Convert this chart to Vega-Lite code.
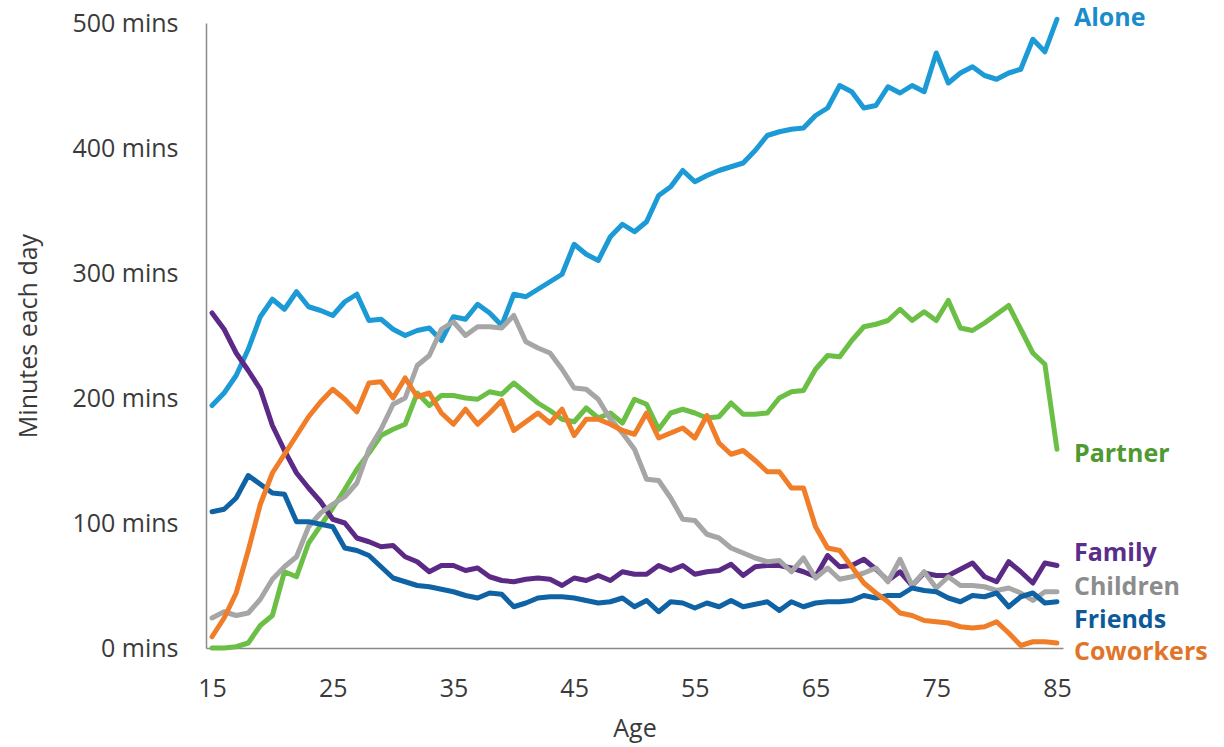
{
  "$schema": "https://vega.github.io/schema/vega-lite/v6.json",
  "width": 857,
  "height": 625,
  "autosize": "none",
  "padding": {"left": 206, "top": 23, "right": 161, "bottom": 99},
  "background": "white",
  "config": {"view": {"stroke": null}, "font": "Open Sans"},
  "datasets": {
    "minutes": [
      {"age":15,"who":"Alone","minutes":194},{"age":16,"who":"Alone","minutes":204},{"age":17,"who":"Alone","minutes":218},{"age":18,"who":"Alone","minutes":239},{"age":19,"who":"Alone","minutes":265},{"age":20,"who":"Alone","minutes":279},{"age":21,"who":"Alone","minutes":271},{"age":22,"who":"Alone","minutes":285},{"age":23,"who":"Alone","minutes":273},{"age":24,"who":"Alone","minutes":270},{"age":25,"who":"Alone","minutes":266},{"age":26,"who":"Alone","minutes":277},{"age":27,"who":"Alone","minutes":283},{"age":28,"who":"Alone","minutes":262},{"age":29,"who":"Alone","minutes":263},{"age":30,"who":"Alone","minutes":255},{"age":31,"who":"Alone","minutes":250},{"age":32,"who":"Alone","minutes":254},{"age":33,"who":"Alone","minutes":256},{"age":34,"who":"Alone","minutes":246},{"age":35,"who":"Alone","minutes":265},{"age":36,"who":"Alone","minutes":263},{"age":37,"who":"Alone","minutes":275},{"age":38,"who":"Alone","minutes":268},{"age":39,"who":"Alone","minutes":258},{"age":40,"who":"Alone","minutes":283},{"age":41,"who":"Alone","minutes":281},{"age":42,"who":"Alone","minutes":287},{"age":43,"who":"Alone","minutes":293},{"age":44,"who":"Alone","minutes":299},{"age":45,"who":"Alone","minutes":323},{"age":46,"who":"Alone","minutes":315},{"age":47,"who":"Alone","minutes":310},{"age":48,"who":"Alone","minutes":329},{"age":49,"who":"Alone","minutes":339},{"age":50,"who":"Alone","minutes":333},{"age":51,"who":"Alone","minutes":341},{"age":52,"who":"Alone","minutes":362},{"age":53,"who":"Alone","minutes":369},{"age":54,"who":"Alone","minutes":382},{"age":55,"who":"Alone","minutes":373},{"age":56,"who":"Alone","minutes":378},{"age":57,"who":"Alone","minutes":382},{"age":58,"who":"Alone","minutes":385},{"age":59,"who":"Alone","minutes":388},{"age":60,"who":"Alone","minutes":398},{"age":61,"who":"Alone","minutes":410},{"age":62,"who":"Alone","minutes":413},{"age":63,"who":"Alone","minutes":415},{"age":64,"who":"Alone","minutes":416},{"age":65,"who":"Alone","minutes":426},{"age":66,"who":"Alone","minutes":432},{"age":67,"who":"Alone","minutes":450},{"age":68,"who":"Alone","minutes":445},{"age":69,"who":"Alone","minutes":432},{"age":70,"who":"Alone","minutes":434},{"age":71,"who":"Alone","minutes":449},{"age":72,"who":"Alone","minutes":444},{"age":73,"who":"Alone","minutes":450},{"age":74,"who":"Alone","minutes":445},{"age":75,"who":"Alone","minutes":476},{"age":76,"who":"Alone","minutes":452},{"age":77,"who":"Alone","minutes":460},{"age":78,"who":"Alone","minutes":465},{"age":79,"who":"Alone","minutes":458},{"age":80,"who":"Alone","minutes":455},{"age":81,"who":"Alone","minutes":460},{"age":82,"who":"Alone","minutes":463},{"age":83,"who":"Alone","minutes":487},{"age":84,"who":"Alone","minutes":477},{"age":85,"who":"Alone","minutes":503},
      {"age":15,"who":"Partner","minutes":0},{"age":16,"who":"Partner","minutes":0},{"age":17,"who":"Partner","minutes":1},{"age":18,"who":"Partner","minutes":4},{"age":19,"who":"Partner","minutes":18},{"age":20,"who":"Partner","minutes":26},{"age":21,"who":"Partner","minutes":61},{"age":22,"who":"Partner","minutes":57},{"age":23,"who":"Partner","minutes":84},{"age":24,"who":"Partner","minutes":98},{"age":25,"who":"Partner","minutes":112},{"age":26,"who":"Partner","minutes":127},{"age":27,"who":"Partner","minutes":143},{"age":28,"who":"Partner","minutes":156},{"age":29,"who":"Partner","minutes":170},{"age":30,"who":"Partner","minutes":175},{"age":31,"who":"Partner","minutes":179},{"age":32,"who":"Partner","minutes":204},{"age":33,"who":"Partner","minutes":194},{"age":34,"who":"Partner","minutes":202},{"age":35,"who":"Partner","minutes":202},{"age":36,"who":"Partner","minutes":200},{"age":37,"who":"Partner","minutes":199},{"age":38,"who":"Partner","minutes":205},{"age":39,"who":"Partner","minutes":203},{"age":40,"who":"Partner","minutes":212},{"age":41,"who":"Partner","minutes":204},{"age":42,"who":"Partner","minutes":196},{"age":43,"who":"Partner","minutes":190},{"age":44,"who":"Partner","minutes":183},{"age":45,"who":"Partner","minutes":181},{"age":46,"who":"Partner","minutes":192},{"age":47,"who":"Partner","minutes":184},{"age":48,"who":"Partner","minutes":188},{"age":49,"who":"Partner","minutes":180},{"age":50,"who":"Partner","minutes":199},{"age":51,"who":"Partner","minutes":195},{"age":52,"who":"Partner","minutes":175},{"age":53,"who":"Partner","minutes":188},{"age":54,"who":"Partner","minutes":191},{"age":55,"who":"Partner","minutes":188},{"age":56,"who":"Partner","minutes":184},{"age":57,"who":"Partner","minutes":185},{"age":58,"who":"Partner","minutes":196},{"age":59,"who":"Partner","minutes":187},{"age":60,"who":"Partner","minutes":187},{"age":61,"who":"Partner","minutes":188},{"age":62,"who":"Partner","minutes":200},{"age":63,"who":"Partner","minutes":205},{"age":64,"who":"Partner","minutes":206},{"age":65,"who":"Partner","minutes":223},{"age":66,"who":"Partner","minutes":234},{"age":67,"who":"Partner","minutes":233},{"age":68,"who":"Partner","minutes":246},{"age":69,"who":"Partner","minutes":257},{"age":70,"who":"Partner","minutes":259},{"age":71,"who":"Partner","minutes":262},{"age":72,"who":"Partner","minutes":271},{"age":73,"who":"Partner","minutes":262},{"age":74,"who":"Partner","minutes":269},{"age":75,"who":"Partner","minutes":262},{"age":76,"who":"Partner","minutes":278},{"age":77,"who":"Partner","minutes":256},{"age":78,"who":"Partner","minutes":254},{"age":79,"who":"Partner","minutes":260},{"age":80,"who":"Partner","minutes":267},{"age":81,"who":"Partner","minutes":274},{"age":82,"who":"Partner","minutes":255},{"age":83,"who":"Partner","minutes":236},{"age":84,"who":"Partner","minutes":227},{"age":85,"who":"Partner","minutes":159},
      {"age":15,"who":"Family","minutes":268},{"age":16,"who":"Family","minutes":255},{"age":17,"who":"Family","minutes":236},{"age":18,"who":"Family","minutes":222},{"age":19,"who":"Family","minutes":207},{"age":20,"who":"Family","minutes":178},{"age":21,"who":"Family","minutes":158},{"age":22,"who":"Family","minutes":140},{"age":23,"who":"Family","minutes":128},{"age":24,"who":"Family","minutes":117},{"age":25,"who":"Family","minutes":103},{"age":26,"who":"Family","minutes":100},{"age":27,"who":"Family","minutes":88},{"age":28,"who":"Family","minutes":85},{"age":29,"who":"Family","minutes":81},{"age":30,"who":"Family","minutes":82},{"age":31,"who":"Family","minutes":73},{"age":32,"who":"Family","minutes":69},{"age":33,"who":"Family","minutes":61},{"age":34,"who":"Family","minutes":66},{"age":35,"who":"Family","minutes":66},{"age":36,"who":"Family","minutes":62},{"age":37,"who":"Family","minutes":64},{"age":38,"who":"Family","minutes":57},{"age":39,"who":"Family","minutes":54},{"age":40,"who":"Family","minutes":53},{"age":41,"who":"Family","minutes":55},{"age":42,"who":"Family","minutes":56},{"age":43,"who":"Family","minutes":55},{"age":44,"who":"Family","minutes":50},{"age":45,"who":"Family","minutes":56},{"age":46,"who":"Family","minutes":54},{"age":47,"who":"Family","minutes":58},{"age":48,"who":"Family","minutes":54},{"age":49,"who":"Family","minutes":61},{"age":50,"who":"Family","minutes":59},{"age":51,"who":"Family","minutes":59},{"age":52,"who":"Family","minutes":66},{"age":53,"who":"Family","minutes":62},{"age":54,"who":"Family","minutes":66},{"age":55,"who":"Family","minutes":59},{"age":56,"who":"Family","minutes":61},{"age":57,"who":"Family","minutes":62},{"age":58,"who":"Family","minutes":67},{"age":59,"who":"Family","minutes":58},{"age":60,"who":"Family","minutes":65},{"age":61,"who":"Family","minutes":66},{"age":62,"who":"Family","minutes":66},{"age":63,"who":"Family","minutes":64},{"age":64,"who":"Family","minutes":61},{"age":65,"who":"Family","minutes":57},{"age":66,"who":"Family","minutes":74},{"age":67,"who":"Family","minutes":65},{"age":68,"who":"Family","minutes":66},{"age":69,"who":"Family","minutes":71},{"age":70,"who":"Family","minutes":63},{"age":71,"who":"Family","minutes":54},{"age":72,"who":"Family","minutes":61},{"age":73,"who":"Family","minutes":50},{"age":74,"who":"Family","minutes":60},{"age":75,"who":"Family","minutes":58},{"age":76,"who":"Family","minutes":58},{"age":77,"who":"Family","minutes":63},{"age":78,"who":"Family","minutes":68},{"age":79,"who":"Family","minutes":57},{"age":80,"who":"Family","minutes":53},{"age":81,"who":"Family","minutes":69},{"age":82,"who":"Family","minutes":61},{"age":83,"who":"Family","minutes":52},{"age":84,"who":"Family","minutes":68},{"age":85,"who":"Family","minutes":66},
      {"age":15,"who":"Children","minutes":24},{"age":16,"who":"Children","minutes":29},{"age":17,"who":"Children","minutes":26},{"age":18,"who":"Children","minutes":28},{"age":19,"who":"Children","minutes":39},{"age":20,"who":"Children","minutes":55},{"age":21,"who":"Children","minutes":65},{"age":22,"who":"Children","minutes":73},{"age":23,"who":"Children","minutes":97},{"age":24,"who":"Children","minutes":108},{"age":25,"who":"Children","minutes":115},{"age":26,"who":"Children","minutes":121},{"age":27,"who":"Children","minutes":132},{"age":28,"who":"Children","minutes":159},{"age":29,"who":"Children","minutes":175},{"age":30,"who":"Children","minutes":195},{"age":31,"who":"Children","minutes":200},{"age":32,"who":"Children","minutes":226},{"age":33,"who":"Children","minutes":234},{"age":34,"who":"Children","minutes":255},{"age":35,"who":"Children","minutes":261},{"age":36,"who":"Children","minutes":250},{"age":37,"who":"Children","minutes":257},{"age":38,"who":"Children","minutes":257},{"age":39,"who":"Children","minutes":256},{"age":40,"who":"Children","minutes":266},{"age":41,"who":"Children","minutes":245},{"age":42,"who":"Children","minutes":240},{"age":43,"who":"Children","minutes":236},{"age":44,"who":"Children","minutes":223},{"age":45,"who":"Children","minutes":208},{"age":46,"who":"Children","minutes":207},{"age":47,"who":"Children","minutes":199},{"age":48,"who":"Children","minutes":183},{"age":49,"who":"Children","minutes":172},{"age":50,"who":"Children","minutes":159},{"age":51,"who":"Children","minutes":135},{"age":52,"who":"Children","minutes":134},{"age":53,"who":"Children","minutes":120},{"age":54,"who":"Children","minutes":103},{"age":55,"who":"Children","minutes":102},{"age":56,"who":"Children","minutes":91},{"age":57,"who":"Children","minutes":88},{"age":58,"who":"Children","minutes":80},{"age":59,"who":"Children","minutes":76},{"age":60,"who":"Children","minutes":72},{"age":61,"who":"Children","minutes":69},{"age":62,"who":"Children","minutes":70},{"age":63,"who":"Children","minutes":61},{"age":64,"who":"Children","minutes":72},{"age":65,"who":"Children","minutes":56},{"age":66,"who":"Children","minutes":64},{"age":67,"who":"Children","minutes":55},{"age":68,"who":"Children","minutes":57},{"age":69,"who":"Children","minutes":60},{"age":70,"who":"Children","minutes":64},{"age":71,"who":"Children","minutes":53},{"age":72,"who":"Children","minutes":71},{"age":73,"who":"Children","minutes":50},{"age":74,"who":"Children","minutes":61},{"age":75,"who":"Children","minutes":48},{"age":76,"who":"Children","minutes":57},{"age":77,"who":"Children","minutes":50},{"age":78,"who":"Children","minutes":50},{"age":79,"who":"Children","minutes":49},{"age":80,"who":"Children","minutes":46},{"age":81,"who":"Children","minutes":48},{"age":82,"who":"Children","minutes":44},{"age":83,"who":"Children","minutes":38},{"age":84,"who":"Children","minutes":45},{"age":85,"who":"Children","minutes":45},
      {"age":15,"who":"Friends","minutes":109},{"age":16,"who":"Friends","minutes":111},{"age":17,"who":"Friends","minutes":120},{"age":18,"who":"Friends","minutes":138},{"age":19,"who":"Friends","minutes":131},{"age":20,"who":"Friends","minutes":124},{"age":21,"who":"Friends","minutes":123},{"age":22,"who":"Friends","minutes":101},{"age":23,"who":"Friends","minutes":101},{"age":24,"who":"Friends","minutes":99},{"age":25,"who":"Friends","minutes":97},{"age":26,"who":"Friends","minutes":80},{"age":27,"who":"Friends","minutes":78},{"age":28,"who":"Friends","minutes":74},{"age":29,"who":"Friends","minutes":65},{"age":30,"who":"Friends","minutes":56},{"age":31,"who":"Friends","minutes":53},{"age":32,"who":"Friends","minutes":50},{"age":33,"who":"Friends","minutes":49},{"age":34,"who":"Friends","minutes":47},{"age":35,"who":"Friends","minutes":45},{"age":36,"who":"Friends","minutes":42},{"age":37,"who":"Friends","minutes":40},{"age":38,"who":"Friends","minutes":44},{"age":39,"who":"Friends","minutes":43},{"age":40,"who":"Friends","minutes":33},{"age":41,"who":"Friends","minutes":36},{"age":42,"who":"Friends","minutes":40},{"age":43,"who":"Friends","minutes":41},{"age":44,"who":"Friends","minutes":41},{"age":45,"who":"Friends","minutes":40},{"age":46,"who":"Friends","minutes":38},{"age":47,"who":"Friends","minutes":36},{"age":48,"who":"Friends","minutes":37},{"age":49,"who":"Friends","minutes":40},{"age":50,"who":"Friends","minutes":33},{"age":51,"who":"Friends","minutes":38},{"age":52,"who":"Friends","minutes":29},{"age":53,"who":"Friends","minutes":37},{"age":54,"who":"Friends","minutes":36},{"age":55,"who":"Friends","minutes":32},{"age":56,"who":"Friends","minutes":36},{"age":57,"who":"Friends","minutes":33},{"age":58,"who":"Friends","minutes":38},{"age":59,"who":"Friends","minutes":33},{"age":60,"who":"Friends","minutes":35},{"age":61,"who":"Friends","minutes":37},{"age":62,"who":"Friends","minutes":30},{"age":63,"who":"Friends","minutes":37},{"age":64,"who":"Friends","minutes":33},{"age":65,"who":"Friends","minutes":36},{"age":66,"who":"Friends","minutes":37},{"age":67,"who":"Friends","minutes":37},{"age":68,"who":"Friends","minutes":38},{"age":69,"who":"Friends","minutes":42},{"age":70,"who":"Friends","minutes":40},{"age":71,"who":"Friends","minutes":42},{"age":72,"who":"Friends","minutes":42},{"age":73,"who":"Friends","minutes":48},{"age":74,"who":"Friends","minutes":46},{"age":75,"who":"Friends","minutes":45},{"age":76,"who":"Friends","minutes":40},{"age":77,"who":"Friends","minutes":37},{"age":78,"who":"Friends","minutes":42},{"age":79,"who":"Friends","minutes":41},{"age":80,"who":"Friends","minutes":44},{"age":81,"who":"Friends","minutes":33},{"age":82,"who":"Friends","minutes":41},{"age":83,"who":"Friends","minutes":44},{"age":84,"who":"Friends","minutes":36},{"age":85,"who":"Friends","minutes":37},
      {"age":15,"who":"Coworkers","minutes":9},{"age":16,"who":"Coworkers","minutes":24},{"age":17,"who":"Coworkers","minutes":44},{"age":18,"who":"Coworkers","minutes":78},{"age":19,"who":"Coworkers","minutes":115},{"age":20,"who":"Coworkers","minutes":140},{"age":21,"who":"Coworkers","minutes":155},{"age":22,"who":"Coworkers","minutes":170},{"age":23,"who":"Coworkers","minutes":185},{"age":24,"who":"Coworkers","minutes":197},{"age":25,"who":"Coworkers","minutes":207},{"age":26,"who":"Coworkers","minutes":199},{"age":27,"who":"Coworkers","minutes":189},{"age":28,"who":"Coworkers","minutes":212},{"age":29,"who":"Coworkers","minutes":213},{"age":30,"who":"Coworkers","minutes":200},{"age":31,"who":"Coworkers","minutes":216},{"age":32,"who":"Coworkers","minutes":201},{"age":33,"who":"Coworkers","minutes":204},{"age":34,"who":"Coworkers","minutes":188},{"age":35,"who":"Coworkers","minutes":179},{"age":36,"who":"Coworkers","minutes":191},{"age":37,"who":"Coworkers","minutes":179},{"age":38,"who":"Coworkers","minutes":188},{"age":39,"who":"Coworkers","minutes":198},{"age":40,"who":"Coworkers","minutes":174},{"age":41,"who":"Coworkers","minutes":181},{"age":42,"who":"Coworkers","minutes":188},{"age":43,"who":"Coworkers","minutes":180},{"age":44,"who":"Coworkers","minutes":191},{"age":45,"who":"Coworkers","minutes":170},{"age":46,"who":"Coworkers","minutes":183},{"age":47,"who":"Coworkers","minutes":183},{"age":48,"who":"Coworkers","minutes":179},{"age":49,"who":"Coworkers","minutes":174},{"age":50,"who":"Coworkers","minutes":171},{"age":51,"who":"Coworkers","minutes":188},{"age":52,"who":"Coworkers","minutes":168},{"age":53,"who":"Coworkers","minutes":172},{"age":54,"who":"Coworkers","minutes":176},{"age":55,"who":"Coworkers","minutes":168},{"age":56,"who":"Coworkers","minutes":186},{"age":57,"who":"Coworkers","minutes":164},{"age":58,"who":"Coworkers","minutes":155},{"age":59,"who":"Coworkers","minutes":158},{"age":60,"who":"Coworkers","minutes":150},{"age":61,"who":"Coworkers","minutes":141},{"age":62,"who":"Coworkers","minutes":141},{"age":63,"who":"Coworkers","minutes":128},{"age":64,"who":"Coworkers","minutes":128},{"age":65,"who":"Coworkers","minutes":97},{"age":66,"who":"Coworkers","minutes":80},{"age":67,"who":"Coworkers","minutes":78},{"age":68,"who":"Coworkers","minutes":65},{"age":69,"who":"Coworkers","minutes":52},{"age":70,"who":"Coworkers","minutes":44},{"age":71,"who":"Coworkers","minutes":37},{"age":72,"who":"Coworkers","minutes":28},{"age":73,"who":"Coworkers","minutes":26},{"age":74,"who":"Coworkers","minutes":22},{"age":75,"who":"Coworkers","minutes":21},{"age":76,"who":"Coworkers","minutes":20},{"age":77,"who":"Coworkers","minutes":17},{"age":78,"who":"Coworkers","minutes":16},{"age":79,"who":"Coworkers","minutes":17},{"age":80,"who":"Coworkers","minutes":21},{"age":81,"who":"Coworkers","minutes":12},{"age":82,"who":"Coworkers","minutes":2},{"age":83,"who":"Coworkers","minutes":5},{"age":84,"who":"Coworkers","minutes":5},{"age":85,"who":"Coworkers","minutes":4}
    ],
    "labels": [
      {"who": "Alone", "age": 85, "minutes": 504},
      {"who": "Partner", "age": 85, "minutes": 155},
      {"who": "Family", "age": 85, "minutes": 76},
      {"who": "Children", "age": 85, "minutes": 49},
      {"who": "Friends", "age": 85, "minutes": 22.5},
      {"who": "Coworkers", "age": 85, "minutes": -3}
    ]
  },
  "layer": [
    {
      "data": {"name": "minutes"},
      "mark": {"type": "line", "strokeWidth": 5, "strokeJoin": "round", "strokeCap": "round"},
      "encoding": {
        "x": {
          "field": "age",
          "type": "quantitative",
          "scale": {"domain": [14.5, 85.5], "nice": false, "zero": false},
          "axis": {
            "values": [15, 25, 35, 45, 55, 65, 75, 85],
            "title": "Age",
            "grid": false,
            "ticks": false,
            "domainColor": "#8a8a8a",
            "domainWidth": 1.5,
            "labelFontSize": 25,
            "labelColor": "#3a3a3a",
            "labelPadding": 28,
            "titleFontSize": 25,
            "titleFontWeight": "normal",
            "titleColor": "#3a3a3a",
            "titlePadding": 15
          }
        },
        "y": {
          "field": "minutes",
          "type": "quantitative",
          "scale": {"domain": [0, 500], "nice": false},
          "axis": {
            "values": [0, 100, 200, 300, 400, 500],
            "labelExpr": "datum.value + ' mins'",
            "title": "Minutes each day",
            "grid": false,
            "ticks": false,
            "domainColor": "#8a8a8a",
            "domainWidth": 1.5,
            "labelFontSize": 25,
            "labelColor": "#3a3a3a",
            "labelPadding": 28,
            "titleFontSize": 25,
            "titleFontWeight": "normal",
            "titleColor": "#3a3a3a",
            "titlePadding": 30
          }
        },
        "color": {
          "field": "who",
          "type": "nominal",
          "scale": {
            "domain": ["Alone", "Partner", "Family", "Children", "Friends", "Coworkers"],
            "range": ["#1b9ad6", "#6cbf45", "#5b2a86", "#a6a6a6", "#0f63a5", "#f07d28"]
          },
          "legend": null
        }
      }
    },
    {
      "data": {"name": "labels"},
      "mark": {"type": "text", "align": "left", "baseline": "middle", "dx": 17, "fontSize": 25, "fontWeight": "bold"},
      "encoding": {
        "x": {"field": "age", "type": "quantitative"},
        "y": {"field": "minutes", "type": "quantitative"},
        "text": {"field": "who"},
        "color": {
          "field": "who",
          "type": "nominal",
          "scale": {
            "domain": ["Alone", "Partner", "Family", "Children", "Friends", "Coworkers"],
            "range": ["#1a8ccb", "#4f9a30", "#5b2d8a", "#8c8c8c", "#0d5a98", "#e0752a"]
          },
          "legend": null
        }
      }
    }
  ],
  "resolve": {"scale": {"color": "independent"}}
}
